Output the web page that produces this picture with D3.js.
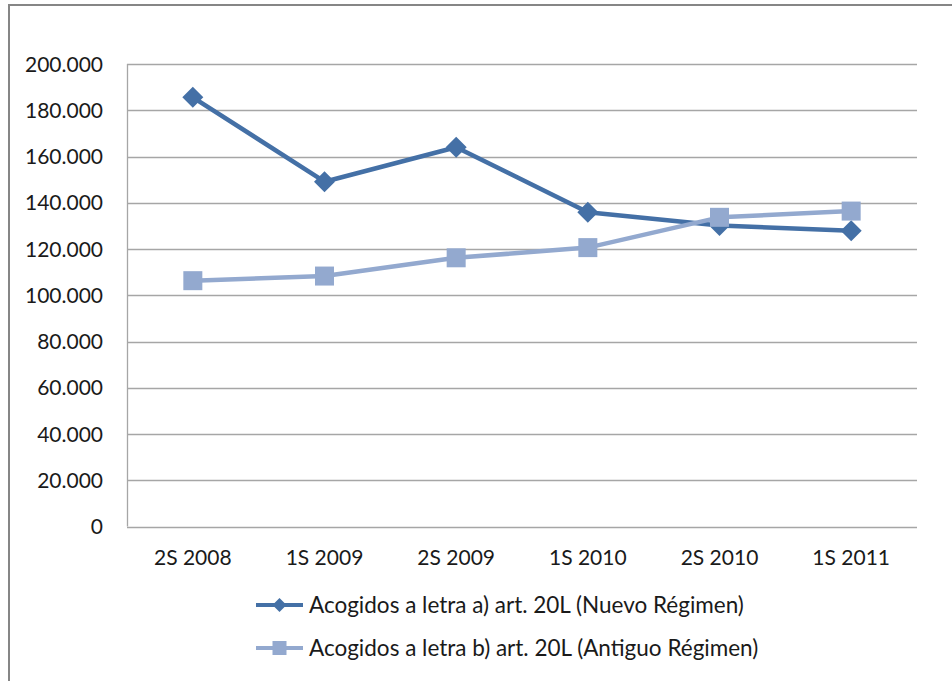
<!DOCTYPE html>
<html>
<head>
<meta charset="utf-8">
<script src="https://cdn.jsdelivr.net/npm/d3@7"></script>
<style>
body { margin: 0; background: #fff; }
svg { display: block; font-family: Lato, "Open Sans", sans-serif; }
</style>
</head>
<body>
<div id="chart"></div>
<script>
const categories = ["2S 2008", "1S 2009", "2S 2009", "1S 2010", "2S 2010", "1S 2011"]
const nuevoValues = [185600, 149100, 164000, 135900, 130200, 127900]
const antiguoValues = [106300, 108300, 116200, 120600, 133700, 136400]
const seriesNames = ["Acogidos a letra a) art. 20L (Nuevo Régimen)", "Acogidos a letra b) art. 20L (Antiguo Régimen)"]
const yTicks = [0, 20000, 40000, 60000, 80000, 100000, 120000, 140000, 160000, 180000, 200000]

const W = 952, H = 681
const plot = { left: 127, right: 917, top: 64, bottom: 526.5 }

const svg = d3.select("#chart").append("svg")
    .attr("width", W)
    .attr("height", H)

// outer chart frame
svg.append("rect")
    .attr("x", 9).attr("y", 5)
    .attr("width", W).attr("height", H)
    .attr("fill", "#fff")
    .attr("stroke", "#868686")
    .attr("stroke-width", 2)

const x = d3.scaleBand()
    .domain(categories)
    .range([plot.left, plot.right])

const y = d3.scaleLinear()
    .domain([0, 200000])
    .range([plot.bottom, plot.top])

const fmt = function (v) { return v === 0 ? "0" : d3.format(",")(v).replace(/,/g, ".") }

// gridlines
svg.append("g")
    .selectAll("line")
    .data(yTicks)
    .enter().append("line")
    .attr("x1", plot.left).attr("x2", plot.right)
    .attr("y1", function (d) { return Math.round(y(d)) + 0.5 })
    .attr("y2", function (d) { return Math.round(y(d)) + 0.5 })
    .attr("stroke", "#a6a6a6")
    .attr("stroke-width", 1.3)

// y axis line
svg.append("line")
    .attr("x1", plot.left + 0.5).attr("x2", plot.left + 0.5)
    .attr("y1", plot.top).attr("y2", plot.bottom)
    .attr("stroke", "#a6a6a6")
    .attr("stroke-width", 1.3)

// y labels
svg.append("g")
    .selectAll("text")
    .data(yTicks)
    .enter().append("text")
    .attr("x", 103)
    .attr("y", function (d) { return y(d) + 7.5 })
    .attr("text-anchor", "end")
    .attr("font-size", 21)
    .attr("fill", "#1a1a1a")
    .text(fmt)

// x labels
svg.append("g")
    .selectAll("text")
    .data(categories)
    .enter().append("text")
    .attr("x", function (d) { return x(d) + x.bandwidth() / 2 })
    .attr("y", 565)
    .attr("text-anchor", "middle")
    .attr("font-size", 21)
    .attr("fill", "#1a1a1a")
    .text(function (d) { return d })

const series = [
    { name: seriesNames[0], values: nuevoValues, color: "#4470a6", marker: "diamond" },
    { name: seriesNames[1], values: antiguoValues, color: "#93a9cf", marker: "square" }
]

const line = d3.line()
    .x(function (d, i) { return x(categories[i]) + x.bandwidth() / 2 })
    .y(function (d) { return y(d) })

function drawMarker(g, type, color, r) {
    if (type === "diamond") {
        g.append("path")
            .attr("d", "M0," + -r + "L" + r + ",0L0," + r + "L" + -r + ",0Z")
            .attr("fill", color)
    } else {
        g.append("rect")
            .attr("x", -r).attr("y", -r)
            .attr("width", 2 * r).attr("height", 2 * r)
            .attr("fill", color)
    }
}

series.forEach(function (s) {
    svg.append("path")
        .datum(s.values)
        .attr("d", line)
        .attr("fill", "none")
        .attr("stroke", s.color)
        .attr("stroke-width", 4.5)
        .attr("stroke-linejoin", "round")

    s.values.forEach(function (v, i) {
        const g = svg.append("g")
            .attr("transform", "translate(" + (x(categories[i]) + x.bandwidth() / 2) + "," + y(v) + ")")
        drawMarker(g, s.marker, s.color, s.marker === "diamond" ? 10.5 : 9.5)
    })
})

// legend
const legend = svg.append("g")
series.forEach(function (s, i) {
    const ly = 605 + i * 43
    legend.append("line")
        .attr("x1", 256).attr("x2", 303)
        .attr("y1", ly).attr("y2", ly)
        .attr("stroke", s.color)
        .attr("stroke-width", 4)
    const g = legend.append("g").attr("transform", "translate(279.5," + ly + ")")
    drawMarker(g, s.marker, s.color, s.marker === "diamond" ? 7 : 7)
    legend.append("text")
        .attr("x", 309)
        .attr("y", ly + 8)
        .attr("font-size", 22.5)
        .attr("fill", "#1a1a1a")
        .text(s.name)
})
</script>
</body>
</html>
